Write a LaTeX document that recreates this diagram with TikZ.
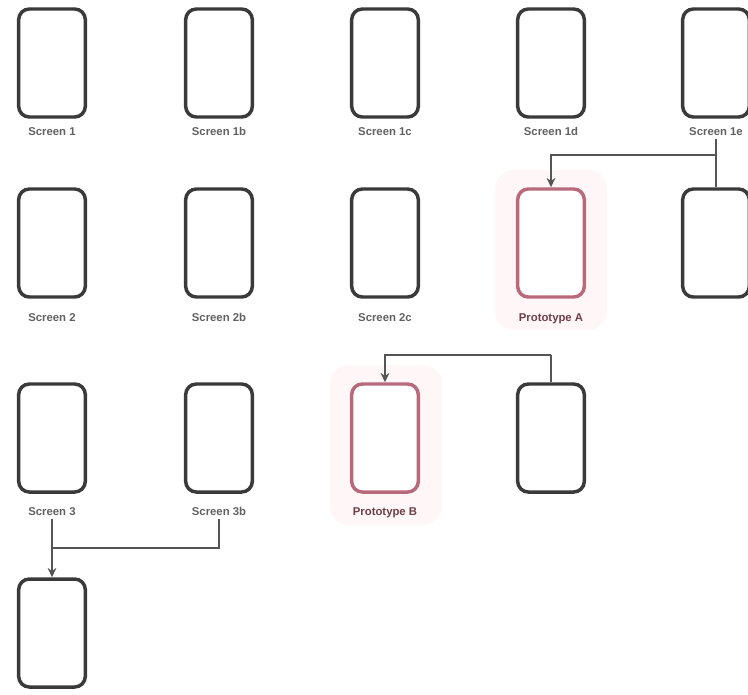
\documentclass[tikz,border=0pt]{standalone}
\usepackage{fontspec}
\setmainfont{Liberation Sans}
\usetikzlibrary{arrows.meta}
\definecolor{boxc}{HTML}{3A3A3A}
\definecolor{redc}{HTML}{B86A7C}
\definecolor{linec}{HTML}{555555}
\tikzset{
  screen/.style={draw=boxc, line width=2.6pt, rounded corners=8pt, fill=white,
    minimum width=50pt, minimum height=81pt, inner sep=0pt},
  redscreen/.style={screen, draw=redc},
  lbl/.style={font=\bfseries\fontsize{8.5}{10}\selectfont, text=boxc!80!white,
    inner sep=1pt, text height=6.5pt, text depth=2pt},
  redlbl/.style={lbl, text=redc!60!black},
  conn/.style={draw=linec, line width=1.4pt},
  arr/.style={conn, -{Stealth[length=7pt,width=6.5pt]}}
}
\begin{document}
\begin{tikzpicture}[x=0.75pt,y=-0.75pt]
\useasboundingbox (0,0) rectangle (748,694);
% halos
\fill[red!3, rounded corners=14pt] (495,170) rectangle (607,330);
\fill[red!3, rounded corners=14pt] (330,365) rectangle (442,525);
% row 1
\node[screen] (r1c1) at (52,63) {};
\node[screen] (r1c2) at (219,63) {};
\node[screen] (r1c3) at (385,63) {};
\node[screen] (r1c4) at (551,63) {};
\node[screen] (r1c5) at (716,63) {};
\node[lbl] (l11) at (52,132) {Screen 1};
\node[lbl] (l12) at (219,132) {Screen 1b};
\node[lbl] (l13) at (385,132) {Screen 1c};
\node[lbl] (l14) at (551,132) {Screen 1d};
\node[lbl] (l15) at (716,132) {Screen 1e};
% row 2
\node[screen] (r2c1) at (52,243) {};
\node[screen] (r2c2) at (219,243) {};
\node[screen] (r2c3) at (385,243) {};
\node[redscreen] (r2c4) at (551,243) {};
\node[screen] (r2c5) at (716,243) {};
\node[lbl] (l21) at (52,318) {Screen 2};
\node[lbl] (l22) at (219,318) {Screen 2b};
\node[lbl] (l23) at (385,318) {Screen 2c};
\node[redlbl] (l24) at (551,318) {Prototype A};
% row 3
\node[screen] (r3c1) at (52,438) {};
\node[screen] (r3c2) at (219,438) {};
\node[redscreen] (r3c3) at (385,438) {};
\node[screen] (r3c4) at (551,438) {};
\node[lbl] (l31) at (52,512) {Screen 3};
\node[lbl] (l32) at (219,512) {Screen 3b};
\node[redlbl] (l33) at (385,512) {Prototype B};
% row 4
\node[screen] (r4c1) at (52,633) {};
% connectors
\coordinate (j1) at (716,155);
\draw[conn] (l15.south) -- (r2c5.north);
\draw[arr] (j1) -| (r2c4.north);
\coordinate (j2) at (551,355);
\draw[conn] (r3c4.north) -- (j2);
\draw[arr] (j2) -| (r3c3.north);
\coordinate (j3) at (52,548);
\draw[arr] (l31.south) -- (r4c1.north);
\draw[conn] (l32.south) |- (j3);
\end{tikzpicture}
\end{document}
